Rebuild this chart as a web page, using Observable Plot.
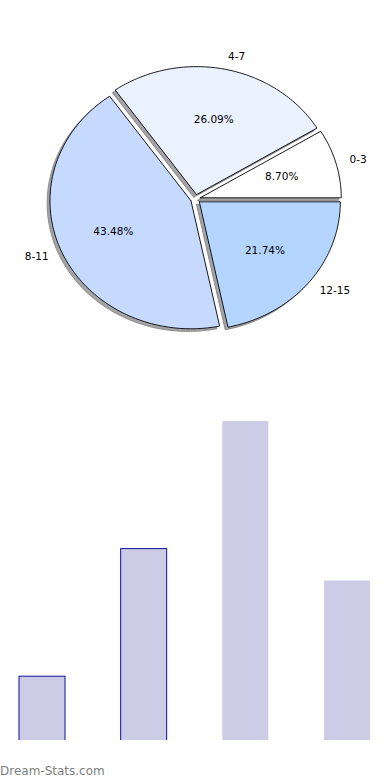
<!DOCTYPE html>
<html>
<head>
<meta charset="utf-8">
<script src="https://cdn.jsdelivr.net/npm/d3@7"></script>
<script src="https://cdn.jsdelivr.net/npm/@observablehq/plot@0.6"></script>
<style>
  html, body { margin: 0; padding: 0; background: #fff; }
  #wrap { position: relative; width: 390px; height: 780px; overflow: hidden; }
  #wrap svg { display: block; overflow: hidden; }
  #caption { position: absolute; left: 0; top: 764px; font-family: "DejaVu Sans", sans-serif; font-size: 12px; line-height: 14px; color: #808080; }
</style>
</head>
<body>
<div id="wrap"></div>
<script>
// ---- data ----
const categories = ["0-3", "4-7", "8-11", "12-15"];
const counts = [2, 6, 10, 5];
// ---- styles ----
const sliceColors = ["#ffffff", "#eaf1ff", "#c6d9ff", "#b4d5ff"];
const outlined = [true, true, false, false];

const explode = 0.035;
const total = d3.sum(counts);
let acc = 0;
const slices = categories.map((cat, i) => {
  const a0 = acc / total * 2 * Math.PI;
  acc += counts[i];
  const a1 = acc / total * 2 * Math.PI;
  const mid = (a0 + a1) / 2;
  const ox = explode * Math.cos(mid), oy = explode * Math.sin(mid);
  const pts = [{x: ox, y: oy}];
  const n = Math.max(2, Math.ceil((a1 - a0) / (Math.PI / 180)));
  for (let k = 0; k <= n; k++) {
    const a = a0 + (a1 - a0) * k / n;
    pts.push({x: ox + Math.cos(a), y: oy + Math.sin(a)});
  }
  pts.push({x: ox, y: oy});
  return {
    cat, count: counts[i], color: sliceColors[i], pts, mid,
    lx: ox + 1.1 * Math.cos(mid), ly: oy + 1.1 * Math.sin(mid),
    px: ox + 0.6 * Math.cos(mid), py: oy + 0.6 * Math.sin(mid),
    pct: (counts[i] / total * 100).toFixed(2) + "%"
  };
});

const rx = 141, ry = 128, cx = 195, cy = 198.5, W = 390, H1 = 370;

const shadowMarks = slices.map(s => Plot.line(s.pts, {
  x: "x", y: "y", fill: "#a4a4a6", stroke: "#8a8a8c", strokeWidth: 1,
  dx: -2.8, dy: 2.6, curve: "linear"
}));
const wedgeMarks = slices.map(s => Plot.line(s.pts, {
  x: "x", y: "y", fill: s.color, stroke: "#000", strokeWidth: 0.9,
  strokeLinejoin: "miter", curve: "linear"
}));

const pie = Plot.plot({
  width: W, height: H1, margin: 0,
  style: {fontFamily: "DejaVu Sans", fontSize: "10.5px", background: "#fff"},
  x: {domain: [-cx / rx, (W - cx) / rx], axis: null},
  y: {domain: [-(H1 - cy) / ry, cy / ry], axis: null},
  marks: [
    ...shadowMarks,
    ...wedgeMarks,
    Plot.text(slices.filter(s => s.lx >= 0), {x: "lx", y: "ly", text: "cat", textAnchor: "start", fill: "#000"}),
    Plot.text(slices.filter(s => s.lx < 0), {x: "lx", y: "ly", text: "cat", textAnchor: "end", fill: "#000"}),
    Plot.text(slices, {x: "px", y: "py", text: "pct", textAnchor: "middle", fill: "#000"})
  ]
});

const barData = categories.map((c, i) => ({cat: c, count: counts[i], outlined: outlined[i]}));
const H2 = 370;
const bars = Plot.plot({
  width: W, height: H2, margin: 0,
  style: {background: "#fff"},
  x: {type: "band", domain: categories, range: [0, 389], round: false, paddingInner: 0.54754, paddingOuter: 0.18687, axis: null},
  y: {domain: [0, H2 / 31.9], axis: null},
  marks: [
    Plot.barY(barData.filter(d => d.outlined), {x: "cat", y: "count", fill: "#ccccE6", stroke: "#10109a", strokeWidth: 1, insetBottom: -3, clip: true}),
    Plot.barY(barData.filter(d => !d.outlined), {x: "cat", y: "count", fill: "#ccccE6", insetBottom: -3, clip: true})
  ]
});

const wrap = document.getElementById("wrap");
wrap.appendChild(pie);
wrap.appendChild(bars);
const cap = document.createElement("div");
cap.id = "caption";
cap.textContent = "Dream-Stats.com";
wrap.appendChild(cap);
</script>
</body>
</html>
